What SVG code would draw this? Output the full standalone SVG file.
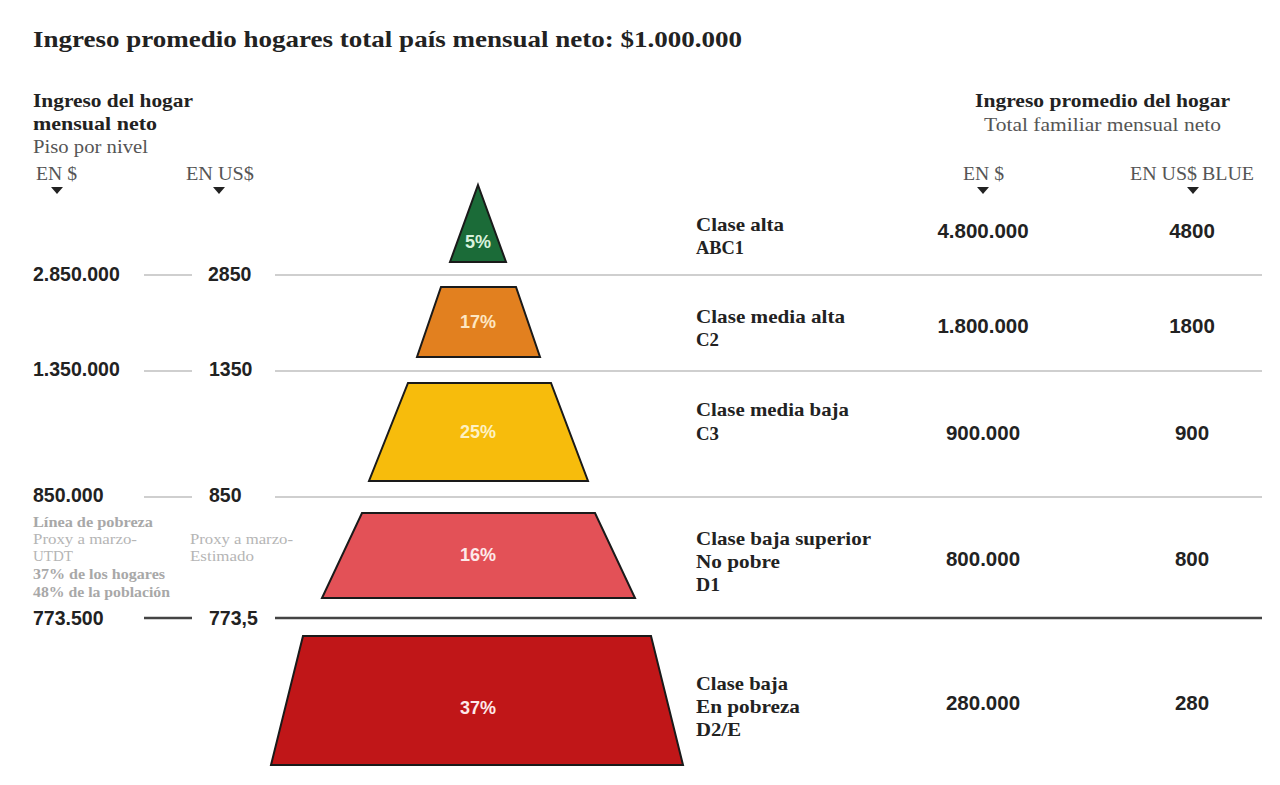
<svg xmlns="http://www.w3.org/2000/svg" width="1280" height="785" viewBox="0 0 1280 785">
<style>
.t{font-family:"Liberation Serif","DejaVu Serif",serif;font-weight:bold;fill:#222}
.r{font-family:"Liberation Serif","DejaVu Serif",serif;fill:#555}
.n{font-family:"Liberation Sans",Arial,sans-serif;font-weight:bold;fill:#222;font-size:19.5px}
.m{font-family:"Liberation Sans",Arial,sans-serif;font-weight:bold;fill:#222;font-size:20.5px;text-anchor:middle}
.p{font-family:"Liberation Sans",Arial,sans-serif;font-weight:bold;font-size:18px;text-anchor:middle}
.g{font-family:"Liberation Serif","DejaVu Serif",serif;font-size:14px;fill:#b5b5b5}
.gb{font-family:"Liberation Serif","DejaVu Serif",serif;font-size:14px;font-weight:bold;fill:#a8a8a8}
.lt{stroke:#cfcfcf;stroke-width:2;fill:none}
.dk{stroke:#444;stroke-width:2.5;fill:none}
.sh{stroke:#1a1a1a;stroke-width:2;stroke-linejoin:miter}
.tri{fill:#222}
</style>
<rect width="1280" height="785" fill="#ffffff"/>
<text class="t" x="33" y="47" font-size="24" textLength="709" lengthAdjust="spacingAndGlyphs">Ingreso promedio hogares total país mensual neto: $1.000.000</text>

<g id="header-left">
<text class="t" x="33" y="107" font-size="19" textLength="160" lengthAdjust="spacingAndGlyphs">Ingreso del hogar</text>
<text class="t" x="33" y="130" font-size="19" textLength="124" lengthAdjust="spacingAndGlyphs">mensual neto</text>
<text class="r" x="33" y="153" font-size="18" textLength="115" lengthAdjust="spacingAndGlyphs">Piso por nivel</text>
<text class="r" x="36" y="180" font-size="18" fill="#333" textLength="41" lengthAdjust="spacingAndGlyphs">EN $</text>
<text class="r" x="186" y="180" font-size="18" textLength="68" lengthAdjust="spacingAndGlyphs">EN US$</text>
<path class="tri" d="M51,187 L63,187 L57,194 Z"/>
<path class="tri" d="M213,187 L225,187 L219,194 Z"/>
</g>

<g id="header-right">
<text class="t" x="975" y="107" font-size="19" textLength="255" lengthAdjust="spacingAndGlyphs">Ingreso promedio del hogar</text>
<text class="r" x="984" y="131" font-size="18" textLength="237" lengthAdjust="spacingAndGlyphs">Total familiar mensual neto</text>
<text class="r" x="963" y="180" font-size="18" textLength="41" lengthAdjust="spacingAndGlyphs">EN $</text>
<text class="r" x="1130" y="180" font-size="18" textLength="124" lengthAdjust="spacingAndGlyphs">EN US$ BLUE</text>
<path class="tri" d="M977,187 L989,187 L983,194 Z"/>
<path class="tri" d="M1187,187 L1199,187 L1193,194 Z"/>
</g>

<g id="connectors">
<line class="lt" x1="144" y1="275" x2="192" y2="275"/>
<line class="lt" x1="275" y1="275" x2="1262" y2="275"/>
<line class="lt" x1="144" y1="371" x2="192" y2="371"/>
<line class="lt" x1="275" y1="371" x2="1262" y2="371"/>
<line class="lt" x1="144" y1="497" x2="192" y2="497"/>
<line class="lt" x1="275" y1="497" x2="1262" y2="497"/>
<line class="dk" x1="144" y1="618" x2="192" y2="618"/>
<line class="dk" x1="275" y1="618" x2="1262" y2="618"/>
</g>

<g id="thresholds">
<text class="n" x="33" y="281">2.850.000</text>
<text class="n" x="208" y="281">2850</text>
<text class="n" x="33" y="376">1.350.000</text>
<text class="n" x="209" y="376">1350</text>
<text class="n" x="33" y="502">850.000</text>
<text class="n" x="209" y="502">850</text>
<text class="n" x="33" y="625">773.500</text>
<text class="n" x="209" y="625">773,5</text>
</g>

<g id="poverty-note">
<text class="gb" x="33" y="527" textLength="120" lengthAdjust="spacingAndGlyphs">Línea de pobreza</text>
<text class="g" x="33" y="544" textLength="104" lengthAdjust="spacingAndGlyphs">Proxy a marzo-</text>
<text class="g" x="33" y="561" textLength="40" lengthAdjust="spacingAndGlyphs">UTDT</text>
<text class="gb" x="33" y="579" fill="#8a8a8a" textLength="132" lengthAdjust="spacingAndGlyphs">37% de los hogares</text>
<text class="gb" x="33" y="597" textLength="137" lengthAdjust="spacingAndGlyphs">48% de la población</text>
<text class="g" x="190" y="544" textLength="103" lengthAdjust="spacingAndGlyphs">Proxy a marzo-</text>
<text class="g" x="190" y="561" textLength="64" lengthAdjust="spacingAndGlyphs">Estimado</text>
</g>

<g id="abc1">
<polygon class="sh" points="478,185 506,262 450,262" fill="#1b6b38"/>
<text class="p" x="478" y="248" fill="#d9f2dd">5%</text>
<text class="t" x="696" y="231" font-size="19" textLength="88" lengthAdjust="spacingAndGlyphs">Clase alta</text>
<text class="t" x="696" y="254" font-size="19" textLength="48" lengthAdjust="spacingAndGlyphs">ABC1</text>
<text class="m" x="983" y="238">4.800.000</text>
<text class="m" x="1192" y="238">4800</text>
</g>

<g id="c2">
<polygon class="sh" points="441,287 516,287 540,357 417,357" fill="#e2801f"/>
<text class="p" x="478" y="328" fill="#fde6c2">17%</text>
<text class="t" x="696" y="323" font-size="19" textLength="149" lengthAdjust="spacingAndGlyphs">Clase media alta</text>
<text class="t" x="696" y="346" font-size="19" textLength="23" lengthAdjust="spacingAndGlyphs">C2</text>
<text class="m" x="983" y="333">1.800.000</text>
<text class="m" x="1192" y="333">1800</text>
</g>

<g id="c3">
<polygon class="sh" points="408,383 551,383 588,481 369,481" fill="#f7bc0c"/>
<text class="p" x="478" y="438" fill="#fdf1c4">25%</text>
<text class="t" x="696" y="416" font-size="19" textLength="153" lengthAdjust="spacingAndGlyphs">Clase media baja</text>
<text class="t" x="696" y="440" font-size="19" textLength="23" lengthAdjust="spacingAndGlyphs">C3</text>
<text class="m" x="983" y="440">900.000</text>
<text class="m" x="1192" y="440">900</text>
</g>

<g id="d1">
<polygon class="sh" points="362,513 595,513 635,598 322,598" fill="#e35157"/>
<text class="p" x="478" y="561" fill="#fde9e9">16%</text>
<text class="t" x="696" y="545" font-size="19" textLength="175" lengthAdjust="spacingAndGlyphs">Clase baja superior</text>
<text class="t" x="696" y="568" font-size="19" textLength="84" lengthAdjust="spacingAndGlyphs">No pobre</text>
<text class="t" x="696" y="591" font-size="19" textLength="24" lengthAdjust="spacingAndGlyphs">D1</text>
<text class="m" x="983" y="566">800.000</text>
<text class="m" x="1192" y="566">800</text>
</g>

<g id="d2e">
<polygon class="sh" points="303,636 651,636 683,765 271,765" fill="#c01618"/>
<text class="p" x="478" y="714" fill="#fde9e9">37%</text>
<text class="t" x="696" y="690" font-size="19" textLength="92" lengthAdjust="spacingAndGlyphs">Clase baja</text>
<text class="t" x="696" y="713" font-size="19" textLength="104" lengthAdjust="spacingAndGlyphs">En pobreza</text>
<text class="t" x="696" y="736" font-size="19" textLength="45" lengthAdjust="spacingAndGlyphs">D2/E</text>
<text class="m" x="983" y="710">280.000</text>
<text class="m" x="1192" y="710">280</text>
</g>
</svg>
